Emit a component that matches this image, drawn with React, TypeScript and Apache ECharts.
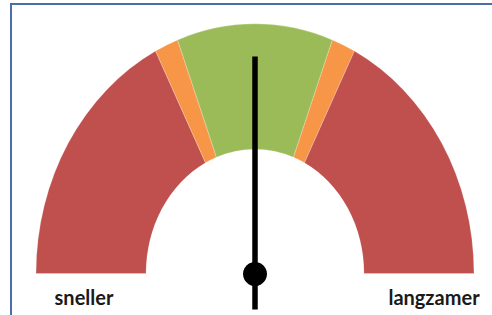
import React, { useEffect, useRef } from "react";
import * as echarts from "echarts";

const segmentNames = ["rood links", "oranje links", "groen", "oranje rechts", "rood rechts"];
const segmentValues = [35, 3.5, 23, 3.5, 35];
const segmentColors = ["#C0504D", "#F79646", "#9BBB59", "#F79646", "#C0504D"];
const needleValue = [50];
const endLabels = ["sneller", "langzamer"];

export default function App() {
  const ref = useRef<HTMLDivElement>(null);
  useEffect(() => {
    if (!ref.current) return;
    const chart = echarts.init(ref.current, null, { renderer: "svg" });
    const cx = 255;
    const cy = 273.5;
    const rOuter = 219;
    const rInner = 109;
    const sy = 1.14;
    const total = segmentValues.reduce((a, b) => a + b, 0);
    const cum: number[] = [];
    segmentValues.reduce((acc, v) => {
      cum.push(acc);
      return acc + v;
    }, 0);

    chart.setOption({
      animation: false,
      graphic: [
        {
          type: "rect",
          shape: { x: 11, y: 4, width: 600, height: 400 },
          style: { fill: "none", stroke: "#4A6EA6", lineWidth: 2 },
          z: 10,
        },
        {
          type: "text",
          x: 84,
          y: 297,
          style: {
            text: endLabels[0],
            font: "bold 20px Lato",
            fill: "#1a1a1a",
            textAlign: "center",
            textVerticalAlign: "middle",
          },
        },
        {
          type: "text",
          x: 434,
          y: 297,
          style: {
            text: endLabels[1],
            font: "bold 20px Lato",
            fill: "#1a1a1a",
            textAlign: "center",
            textVerticalAlign: "middle",
          },
        },
      ],
      series: [
        {
          type: "custom",
          coordinateSystem: "none",
          data: segmentValues.map((v, i) => ({ name: segmentNames[i], value: [v, i] })),
          renderItem: (params: any, api: any) => {
            const i = params.dataIndex;
            const v = api.value(0);
            const start = Math.PI + (cum[i] / total) * Math.PI;
            const end = Math.PI + ((cum[i] + v) / total) * Math.PI;
            return {
              type: "sector",
              x: cx,
              y: cy,
              scaleY: sy,
              shape: { cx: 0, cy: 0, r: rOuter, r0: rInner, startAngle: start, endAngle: end, clockwise: true },
              style: { fill: segmentColors[i], stroke: "rgba(255,255,255,0.35)", lineWidth: 0.6 },
            };
          },
        },
        {
          type: "custom",
          coordinateSystem: "none",
          data: needleValue.map((v) => [v]),
          z: 5,
          renderItem: (params: any, api: any) => {
            const v = api.value(0);
            const a = Math.PI + (v / 100) * Math.PI;
            const dx = Math.cos(a);
            const dy = Math.sin(a);
            return {
              type: "group",
              children: [
                {
                  type: "line",
                  shape: { x1: cx - dx * 36, y1: cy - dy * 36, x2: cx + dx * 217, y2: cy + dy * 217 },
                  style: { stroke: "#000", lineWidth: 5.5, lineCap: "butt" },
                },
                {
                  type: "circle",
                  shape: { cx: cx, cy: cy + 0.5, r: 12 },
                  style: { fill: "#000" },
                },
              ],
            };
          },
        },
      ],
    });
    return () => chart.dispose();
  }, []);
  return (
    <div
      ref={ref}
      style={{ position: "absolute", left: 0, top: 0, width: 492, height: 315, background: "#fff" }}
    />
  );
}
